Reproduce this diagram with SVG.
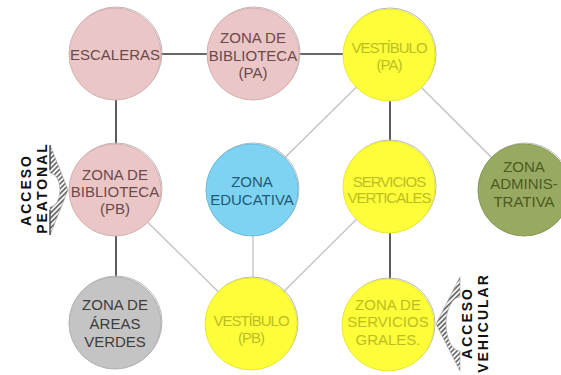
<svg xmlns="http://www.w3.org/2000/svg" width="561" height="375" viewBox="0 0 561 375">
<defs>
<pattern id="hatch" width="3.5" height="3.5" patternUnits="userSpaceOnUse" patternTransform="rotate(45)">
<rect width="3.5" height="3.5" fill="#ffffff"/>
<line x1="0.9" y1="0" x2="0.9" y2="3.5" stroke="#6e6e6e" stroke-width="1.8"/>
</pattern>
</defs>
<style>
.rim{fill:none;stroke:#b8b8b8;stroke-width:1}
.pink{fill:#eac6c6;stroke:#d8b0b0;stroke-width:1}
.yel{fill:#fdfd3a;stroke:#eaea30;stroke-width:1}
.blue{fill:#7fd3f2;stroke:#6cbcd8;stroke-width:1}
.green{fill:#98a962;stroke:#889a55;stroke-width:1}
.gray{fill:#c4c4c4;stroke:#b0b0b0;stroke-width:1}
text{font-family:"Liberation Sans",Arial,sans-serif;font-size:15px;text-anchor:middle}
.tp{fill:#6a4a4a}
.ty{fill:#bdbd22;letter-spacing:-1px}
.ty2{fill:#bdbd22}
.tb{fill:#1d5a78}
.tg{fill:#4c5b1f}
.tgr{fill:#3c3c3c}
.dark{stroke:#333333;stroke-width:1.6;fill:none}
.light{stroke:#c2c2c2;stroke-width:1.3;fill:none}
.acc{font-size:14px;font-weight:bold;fill:#111111;letter-spacing:2px}
.hat{fill:url(#hatch);stroke:#9a9a9a;stroke-width:0.6}
.edge{stroke:#444444;stroke-width:1.3}
</style>
<rect width="561" height="375" fill="#ffffff"/>
<g id="connectors">
<line class="dark" x1="115" y1="54" x2="253" y2="54"/>
<line class="dark" x1="253" y1="54" x2="389" y2="54"/>
<line class="dark" x1="116" y1="54" x2="116" y2="190"/>
<line class="dark" x1="116" y1="190" x2="116" y2="323"/>
<line class="dark" x1="390" y1="55" x2="390" y2="187"/>
<line class="dark" x1="390" y1="187" x2="390" y2="325"/>
<line class="light" x1="389" y1="55" x2="252" y2="190"/>
<line class="light" x1="389" y1="55" x2="524" y2="190"/>
<line class="light" x1="115" y1="190" x2="251" y2="324"/>
<line class="light" x1="253" y1="190" x2="253" y2="324"/>
<line class="light" x1="389" y1="187" x2="251" y2="324"/>
</g>
<g id="escaleras">
<circle class="rim" cx="116" cy="53" r="46"/>
<circle class="pink" cx="115" cy="54" r="46"/>
<text class="tp" x="115" y="60">ESCALERAS</text>
</g>
<g id="biblioteca-pa">
<circle class="rim" cx="254" cy="53" r="46"/>
<circle class="pink" cx="253" cy="54" r="46"/>
<text class="tp" x="253" y="43">ZONA DE</text>
<text class="tp" x="253" y="61">BIBLIOTECA</text>
<text class="tp" x="253" y="78">(PA)</text>
</g>
<g id="vestibulo-pa">
<circle class="rim" cx="390" cy="54" r="46"/>
<circle class="yel" cx="389" cy="55" r="46"/>
<text class="ty" x="389" y="53">VESTÍBULO</text>
<text class="ty" x="389" y="70">(PA)</text>
</g>
<g id="biblioteca-pb">
<circle class="rim" cx="116" cy="189" r="46"/>
<circle class="pink" cx="115" cy="190" r="46"/>
<text class="tp" x="115" y="180">ZONA DE</text>
<text class="tp" x="115" y="197">BIBLIOTECA</text>
<text class="tp" x="115" y="214">(PB)</text>
</g>
<g id="zona-educativa">
<circle class="rim" cx="253" cy="189" r="46"/>
<circle class="blue" cx="252" cy="190" r="46"/>
<text class="tb" x="252" y="187">ZONA</text>
<text class="tb" x="252" y="205">EDUCATIVA</text>
</g>
<g id="servicios-verticales">
<circle class="rim" cx="390" cy="186" r="46"/>
<circle class="yel" cx="389" cy="187" r="46"/>
<text class="ty" x="389" y="187">SERVICIOS</text>
<text class="ty" x="389" y="203">VERTICALES</text>
</g>
<g id="zona-administrativa">
<circle class="rim" cx="525" cy="189" r="46"/>
<circle class="green" cx="524" cy="190" r="46"/>
<text class="tg" x="524" y="172">ZONA</text>
<text class="tg" x="524" y="189">ADMINIS-</text>
<text class="tg" x="524" y="207">TRATIVA</text>
</g>
<g id="areas-verdes">
<circle class="rim" cx="116" cy="322" r="46"/>
<circle class="gray" cx="115" cy="323" r="46"/>
<text class="tgr" x="115" y="310">ZONA DE</text>
<text class="tgr" x="115" y="329">ÁREAS</text>
<text class="tgr" x="115" y="347">VERDES</text>
</g>
<g id="vestibulo-pb">
<circle class="rim" cx="252" cy="323" r="46"/>
<circle class="yel" cx="251" cy="324" r="46"/>
<text class="ty" x="251" y="326">VESTÍBULO</text>
<text class="ty" x="251" y="343">(PB)</text>
</g>
<g id="servicios-grales">
<circle class="rim" cx="389" cy="324" r="46"/>
<circle class="yel" cx="388" cy="325" r="46"/>
<text class="ty2" x="388" y="310">ZONA DE</text>
<text class="ty2" x="388" y="327">SERVICIOS</text>
<text class="ty2" x="388" y="345">GRALES.</text>
</g>
<g id="acceso-peatonal">
<path class="hat" d="M50,145 L68,190 L50,235 L50,207 A10,17 0 0 0 50,173 Z"/>
<line class="edge" x1="50" y1="145" x2="50" y2="170"/>
<line class="edge" x1="50" y1="210" x2="50" y2="235"/>
<text class="acc" transform="translate(31,191) rotate(-90)" x="1">ACCESO</text>
<text class="acc" transform="translate(47,189) rotate(-90)" x="1">PEATONAL</text>
</g>
<g id="acceso-vehicular">
<path class="hat" d="M460,277 L436,324 L460,371 L460,351 A14,27 0 0 1 460,297 Z"/>
<text class="acc" transform="translate(472,324) rotate(-90)" x="1">ACCESO</text>
<text class="acc" transform="translate(488,324) rotate(-90)" x="1">VEHICULAR</text>
</g>
</svg>
